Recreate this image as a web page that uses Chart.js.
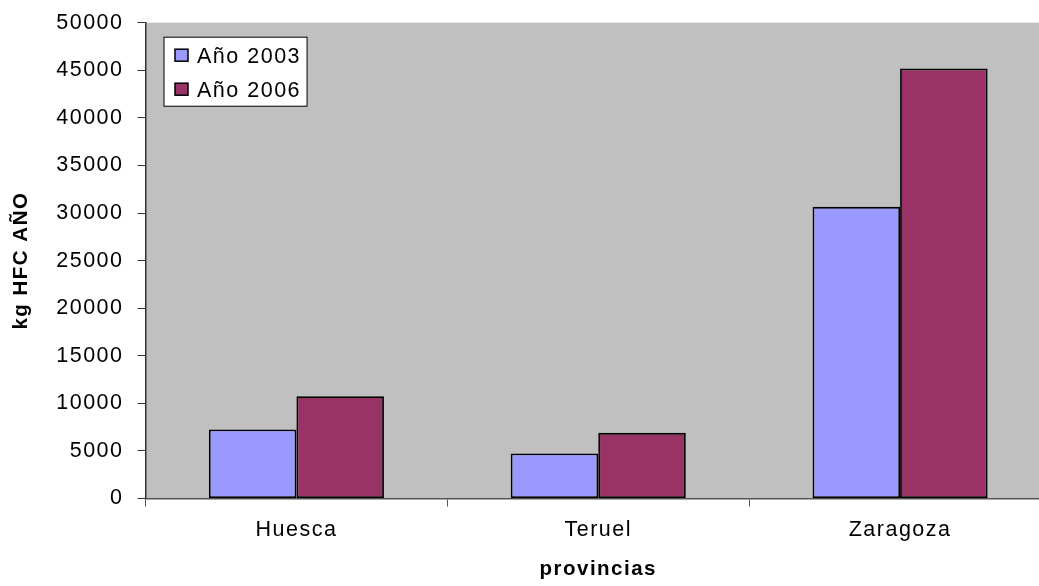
<!DOCTYPE html>
<html>
<head>
<meta charset="utf-8">
<script src="https://cdn.jsdelivr.net/npm/chart.js@4/dist/chart.umd.min.js"></script>
<style>
  html, body { margin: 0; padding: 0; background: #fff; overflow: hidden; }
  #wrap { position: relative; width: 1060px; height: 586px; }
</style>
</head>
<body>
<div id="wrap"><canvas id="c"></canvas></div>
<script>
// Datos: emisiones de HFC por provincia
const provincias = ['Huesca', 'Teruel', 'Zaragoza'];
const series = ['Año 2003', 'Año 2006'];
const valores2003 = [7250, 4730, 30650];
const valores2006 = [10750, 6900, 45200];
const tituloY = 'kg HFC AÑO';
const tituloX = 'provincias';
const ejeMin = 0;
const ejeMax = 50000;
const ejePaso = 5000;

const colores = ['#9999FF', '#993366'];
const FUENTE = "'Liberation Sans', Arial, sans-serif";
const TAM = 21.5;
const ESPACIADO = '1.5px';

Chart.defaults.font.family = FUENTE;
Chart.defaults.font.size = TAM;
Chart.defaults.color = '#000';

// Espaciado de letras para todo el texto del lienzo
const espaciado = {
  id: 'espaciado',
  beforeUpdate(chart) { chart.ctx.letterSpacing = ESPACIADO; },
  beforeDraw(chart) { chart.ctx.letterSpacing = ESPACIADO; }
};

// Fondo gris del área de trazado
const fondo = {
  id: 'fondo',
  beforeDraw(chart) {
    const { ctx, chartArea: a } = chart;
    ctx.save();
    ctx.fillStyle = '#C0C0C0';
    ctx.fillRect(a.left, a.top, a.right - a.left, a.bottom - a.top);
    ctx.restore();
  }
};

// Leyenda dentro del área de trazado, arriba a la izquierda
const leyenda = {
  id: 'leyenda',
  afterDraw(chart) {
    const { ctx, chartArea: a } = chart;
    const ds = chart.data.datasets;
    ctx.save();
    ctx.letterSpacing = ESPACIADO;
    ctx.font = TAM + 'px ' + FUENTE;
    let maxW = 0;
    ds.forEach(d => { maxW = Math.max(maxW, ctx.measureText(d.label).width); });
    const x0 = a.left + 18.5, y0 = a.top + 14.5;
    const fila = 34;
    const w = 33 + maxW + 6, h = 69;
    ctx.fillStyle = '#fff';
    ctx.fillRect(x0, y0, w, h);
    ctx.strokeStyle = '#000';
    ctx.lineWidth = 1;
    ctx.strokeRect(x0, y0, w, h);
    ds.forEach((d, i) => {
      const cy = y0 + 18.5 + i * fila;
      ctx.fillStyle = d.backgroundColor;
      ctx.fillRect(x0 + 11, cy - 6.5, 13, 12);
      ctx.lineWidth = 1.5;
      ctx.strokeStyle = '#000';
      ctx.strokeRect(x0 + 11, cy - 6.5, 13, 12);
      ctx.fillStyle = '#000';
      ctx.textBaseline = 'middle';
      ctx.textAlign = 'left';
      ctx.fillText(d.label, x0 + 33, cy + 1);
    });
    ctx.restore();
  }
};

new Chart(document.getElementById('c'), {
  type: 'bar',
  data: {
    labels: provincias,
    datasets: [
      { label: series[0], data: valores2003, backgroundColor: colores[0] },
      { label: series[1], data: valores2006, backgroundColor: colores[1] }
    ]
  },
  options: {
    responsive: true,
    maintainAspectRatio: false,
    animation: false,
    layout: { padding: { left: 0, right: 9, top: 22.7, bottom: 0 } },
    datasets: {
      bar: {
        barPercentage: 1,
        categoryPercentage: 0.58,
        borderColor: '#000',
        borderWidth: 1.8,
        borderSkipped: false
      }
    },
    plugins: {
      legend: { display: false },
      tooltip: { enabled: false }
    },
    scales: {
      x: {
        grid: {
          offset: true,
          drawOnChartArea: false,
          drawTicks: true,
          tickLength: 8,
          color: '#555'
        },
        border: { display: true, color: '#555', width: 1.5 },
        ticks: { padding: 11, color: '#000', font: { size: TAM } },
        title: {
          display: true,
          text: tituloX,
          color: '#000',
          font: { size: 20.5, weight: 'bold' },
          padding: { top: 4, bottom: 4 }
        },
        afterFit(scale) {
          scale.height = 87.5;
          scale.paddingLeft = 0;
          scale.paddingRight = 0;
        }
      },
      y: {
        min: ejeMin,
        max: ejeMax,
        grid: {
          drawOnChartArea: false,
          drawTicks: true,
          tickLength: 8,
          color: '#333'
        },
        border: { display: true, color: '#333', width: 1.5 },
        ticks: {
          stepSize: ejePaso,
          padding: 14,
          color: '#000',
          font: { size: TAM },
          callback: v => String(v)
        },
        title: {
          display: true,
          text: tituloY,
          color: '#000',
          font: { size: 20.5, weight: 'bold' },
          padding: { top: 9, bottom: 4 }
        },
        afterFit(scale) {
          scale.width = 145.5;
          scale.paddingTop = 0;
          scale.paddingBottom = 0;
        }
      }
    }
  },
  plugins: [espaciado, fondo, leyenda]
});
</script>
</body>
</html>
